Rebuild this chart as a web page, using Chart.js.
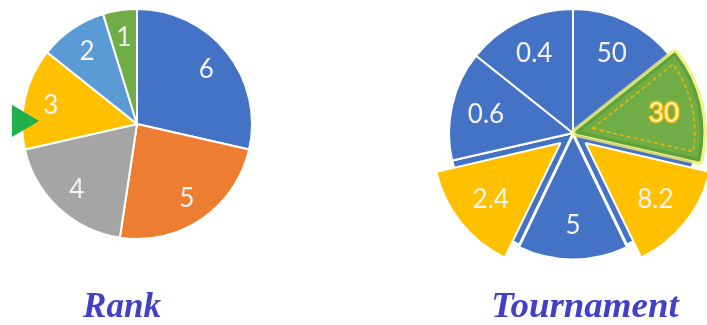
<!DOCTYPE html>
<html><head><meta charset="utf-8">
<script src="https://cdn.jsdelivr.net/npm/chart.js@4.4.1/dist/chart.umd.min.js"></script>
<style>
html,body{margin:0;padding:0;background:#fff;}
#wrap{position:relative;width:707px;height:325px;overflow:hidden;background:#fff;}
#wrap canvas{position:absolute;left:0;top:0;}
</style></head><body>
<div id="wrap">
<canvas id="base" width="707" height="325"></canvas>
<canvas id="rank" width="707" height="325"></canvas>
<canvas id="tour" width="707" height="325"></canvas>
</div>
<script>
// ---- data ----
const rankLabels = ['6','5','4','3','2','1'];
const rankValues = [6,5,4,3,2,1];
const rankTitle = 'Rank';
const rankPointer = '3';

const tourLabels = ['50','30','8.2','5','2.4','0.6','0.4'];
const tourValues = [1,1,1,1,1,1,1];
const tourTitle = 'Tournament';
const tourHighlight = '30';

// ---- styles ----
const rankColors = ['#4472C4','#ED7D31','#A5A5A5','#FFC000','#5B9BD5','#70AD47'];
const tourColors = ['#4472C4','#70AD47','#FFC000','#4472C4','#FFC000','#4472C4','#4472C4'];
const tourOffsets = [0,16,64,8,64,0,0];
const labelFont = '26px Lato, "Open Sans", sans-serif';
const titleFont = 'italic bold 35px "Liberation Serif", "Times New Roman", serif';
const titleColor = '#4141C8';

function arcGeom(arc){
  const p = arc.getProps(['x','y','startAngle','endAngle','outerRadius','circumference'], true);
  const mid = (p.startAngle + p.endAngle) / 2;
  const t = (arc.options.offset || 0) / 4;
  const fix = 1 - Math.sin(Math.min(Math.PI, p.circumference || 0));
  return {x:p.x, y:p.y, cx:p.x + Math.cos(mid)*t, cy:p.y + Math.sin(mid)*t,
          r:p.outerRadius + t*fix, R:p.outerRadius, mid, s:p.startAngle, e:p.endAngle,
          half:(p.endAngle - p.startAngle)/2};
}

function drawLabels(chart, frac, highlight){
  const ctx = chart.ctx;
  const meta = chart.getDatasetMeta(0);
  const labels = chart.data.labels;
  ctx.save();
  ctx.font = labelFont;
  ctx.textAlign = 'center';
  ctx.textBaseline = 'middle';
  meta.data.forEach((arc, i) => {
    const g = arcGeom(arc);
    const d = g.R * frac;
    const x = g.cx + Math.cos(g.mid) * d;
    const y = g.cy + Math.sin(g.mid) * d;
    if (labels[i] === highlight) {
      ctx.lineWidth = 3;
      ctx.strokeStyle = '#F5B800';
      ctx.lineJoin = 'round';
      ctx.strokeText(labels[i], x, y + 1);
      ctx.fillStyle = '#FFF0B8';
      ctx.fillText(labels[i], x, y + 1);
    } else {
      ctx.fillStyle = '#F4F4F4';
      ctx.fillText(labels[i], x, y + 1);
    }
  });
  ctx.restore();
}

function drawTitle(chart, text, x, y, stretch){
  const ctx = chart.ctx;
  ctx.save();
  ctx.font = titleFont;
  ctx.fillStyle = titleColor;
  ctx.textAlign = 'center';
  ctx.textBaseline = 'alphabetic';
  ctx.translate(x, y);
  ctx.scale(stretch, 1);
  ctx.fillText(text, 0, 0);
  ctx.restore();
}

const commonOpts = {
  responsive: false,
  animation: false,
  events: [],
  plugins: { legend: {display:false}, tooltip: {enabled:false}, title:{display:false} }
};

// ---- Rank pie ----
const rankPlugin = {
  id: 'rankDeco',
  afterDatasetsDraw(chart){
    const ctx = chart.ctx;
    const meta = chart.getDatasetMeta(0);
    const idx = rankLabels.indexOf(rankPointer);
    const g = arcGeom(meta.data[idx]);
    // pointer triangle at the left edge, pointing at the highlighted slice
    ctx.save();
    ctx.fillStyle = '#21B04B';
    ctx.beginPath();
    ctx.moveTo(g.x - 1.088*g.R, g.y - 0.167*g.R);
    ctx.lineTo(g.x - 0.851*g.R, g.y - 0.026*g.R);
    ctx.lineTo(g.x - 1.088*g.R, g.y + 0.114*g.R);
    ctx.closePath();
    ctx.fill();
    ctx.restore();
    drawLabels(chart, 0.77, null);
    drawTitle(chart, rankTitle, g.x - 15, 317, 1.0);
  }
};

new Chart(document.getElementById('rank'), {
  type: 'pie',
  data: { labels: rankLabels, datasets: [{
    data: rankValues, backgroundColor: rankColors,
    borderColor: '#FFFFFF', borderWidth: 2, clip: false
  }]},
  options: Object.assign({}, commonOpts, {
    radius: 115,
    layout: { padding: { left: 0, top: 0, right: 433, bottom: 77 } }
  }),
  plugins: [rankPlugin]
});

// ---- Tournament: underlying un-exploded pie ----
new Chart(document.getElementById('base'), {
  type: 'pie',
  data: { labels: tourLabels, datasets: [{
    data: tourValues, backgroundColor: '#4472C4',
    borderColor: '#FFFFFF', borderWidth: 2, clip: false
  }]},
  options: Object.assign({}, commonOpts, {
    radius: 124,
    layout: { padding: { left: 439, top: 0, right: 0, bottom: 59 } }
  })
});

// ---- Tournament: exploded pie ----
const tourPlugin = {
  id: 'tourDeco',
  afterDatasetsDraw(chart){
    const ctx = chart.ctx;
    const meta = chart.getDatasetMeta(0);
    const idx = tourLabels.indexOf(tourHighlight);
    const g = arcGeom(meta.data[idx]);
    const path = (inset) => {
      ctx.beginPath();
      if (!inset) {
        ctx.moveTo(g.cx, g.cy);
        ctx.arc(g.cx, g.cy, g.r, g.s, g.e);
      } else {
        const tip = inset / Math.sin(g.half);
        const rr = g.r - inset;
        const da = Math.asin(inset / rr);
        ctx.moveTo(g.cx + Math.cos(g.mid)*tip, g.cy + Math.sin(g.mid)*tip);
        ctx.arc(g.cx, g.cy, rr, g.s + da, g.e - da);
      }
      ctx.closePath();
    };
    ctx.save();
    ctx.lineJoin = 'round';
    path(0);
    ctx.lineWidth = 10; ctx.strokeStyle = 'rgba(240,238,110,0.8)'; ctx.stroke();
    ctx.fillStyle = '#70AD47'; ctx.fill();
    ctx.lineWidth = 3.5; ctx.strokeStyle = '#5FA338'; ctx.stroke();
    path(7);
    ctx.setLineDash([4,3]);
    ctx.lineWidth = 1.5; ctx.strokeStyle = '#F2B400'; ctx.stroke();
    ctx.restore();
    drawLabels(chart, 0.72, tourHighlight);
    drawTitle(chart, tourTitle, g.x + 12, 317, 1.055);
  }
};

new Chart(document.getElementById('tour'), {
  type: 'pie',
  data: { labels: tourLabels, datasets: [{
    data: tourValues, backgroundColor: tourColors, offset: tourOffsets,
    borderColor: '#FFFFFF', borderWidth: 2, clip: false
  }]},
  options: Object.assign({}, commonOpts, {
    radius: 124,
    layout: { padding: { left: 439, top: 0, right: 0, bottom: 59 } }
  }),
  plugins: [tourPlugin]
});
</script>
</body></html>
